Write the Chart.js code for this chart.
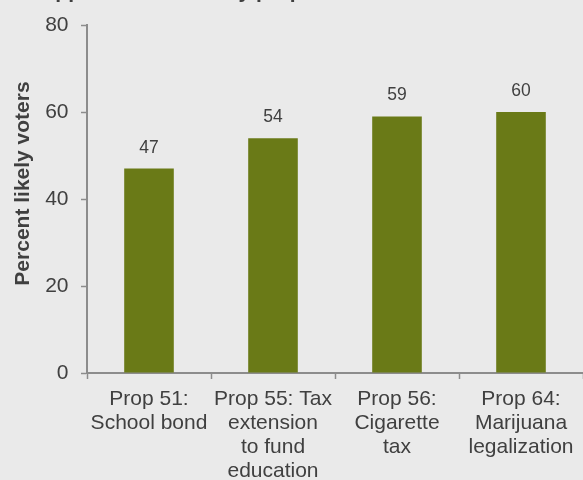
<!DOCTYPE html>
<html>
<head>
<meta charset="utf-8">
<script src="https://cdn.jsdelivr.net/npm/chart.js@4/dist/chart.umd.min.js"></script>
<style>
  html, body { margin: 0; padding: 0; background: #eaeaea; }
  canvas { display: block; background: #eaeaea; }
</style>
</head>
<body>
<canvas id="c" width="583" height="480"></canvas>
<script>
// Proposition names (multi-line category labels)
const categories = [
  ['Prop 51:', 'School bond'],
  ['Prop 55: Tax', 'extension', 'to fund', 'education'],
  ['Prop 56:', 'Cigarette', 'tax'],
  ['Prop 64:', 'Marijuana', 'legalization']
];
// Percent of likely voters in support
const supportValues = [47, 54, 59, 60];
// Y-axis tick values
const yTicks = [0, 20, 40, 60, 80];

const chartTitle = 'Support in October by proposition';
const yAxisTitle = 'Percent likely voters';

const FONT = '"Liberation Sans", Arial, Helvetica, sans-serif';
const TEXT = '#404040';
const AXIS = '#8c8c8c';
const BAR = '#6a7a17';

// Draws the heading (sits mostly above the canvas top) and the rotated y title
const textPlugin = {
  id: 'textPlugin',
  afterDraw(chart) {
    const ctx = chart.ctx;
    ctx.save();
    ctx.fillStyle = TEXT;
    ctx.font = 'bold 21px ' + FONT;
    ctx.textAlign = 'left';
    ctx.textBaseline = 'alphabetic';
    ctx.fillText(chartTitle, 28.5, -2);

    ctx.translate(23, 183.5);
    ctx.rotate(-Math.PI / 2);
    ctx.font = 'bold 21px ' + FONT;
    ctx.textAlign = 'center';
    ctx.textBaseline = 'middle';
    ctx.fillText(yAxisTitle, 0, 0);
    ctx.restore();
  }
};

// Value labels above each bar
const valueLabels = {
  id: 'valueLabels',
  afterDatasetsDraw(chart) {
    const ctx = chart.ctx;
    const meta = chart.getDatasetMeta(0);
    ctx.save();
    ctx.fillStyle = TEXT;
    ctx.font = '17.5px ' + FONT;
    ctx.textAlign = 'center';
    ctx.textBaseline = 'alphabetic';
    meta.data.forEach((bar, i) => {
      ctx.fillText(String(supportValues[i]), bar.x, bar.y - 16);
    });
    ctx.restore();
  }
};

new Chart(document.getElementById('c'), {
  type: 'bar',
  data: {
    labels: categories,
    datasets: [{
      data: supportValues,
      backgroundColor: BAR,
      borderWidth: 0,
      barPercentage: 0.4,
      categoryPercentage: 1.0
    }]
  },
  options: {
    responsive: false,
    devicePixelRatio: 1,
    animation: false,
    layout: { padding: { top: 19, right: 0, bottom: 0, left: 0 } },
    plugins: {
      legend: { display: false },
      tooltip: { enabled: false },
      title: { display: false }
    },
    scales: {
      x: {
        offset: true,
        grid: {
          offset: true,
          drawOnChartArea: false,
          drawTicks: true,
          tickLength: 6,
          tickColor: AXIS,
          tickWidth: 1.5
        },
        border: { display: true, color: AXIS, width: 2 },
        ticks: {
          color: TEXT,
          font: { family: FONT, size: 21, lineHeight: 1.14 },
          padding: 8,
          maxRotation: 0,
          minRotation: 0,
          autoSkip: false
        },
        afterFit(scale) { scale.height = 107; }
      },
      y: {
        min: 0,
        max: 80,
        afterBuildTicks(scale) { scale.ticks = yTicks.map(v => ({ value: v })); },
        grid: {
          drawOnChartArea: false,
          drawTicks: true,
          tickLength: 6,
          tickColor: AXIS,
          tickWidth: 1.5
        },
        border: { display: true, color: AXIS, width: 2 },
        ticks: {
          color: TEXT,
          font: { family: FONT, size: 21 },
          padding: 12.5
        },
        afterFit(scale) { scale.width = 87; }
      }
    }
  },
  plugins: [textPlugin, valueLabels]
});
</script>
</body>
</html>
